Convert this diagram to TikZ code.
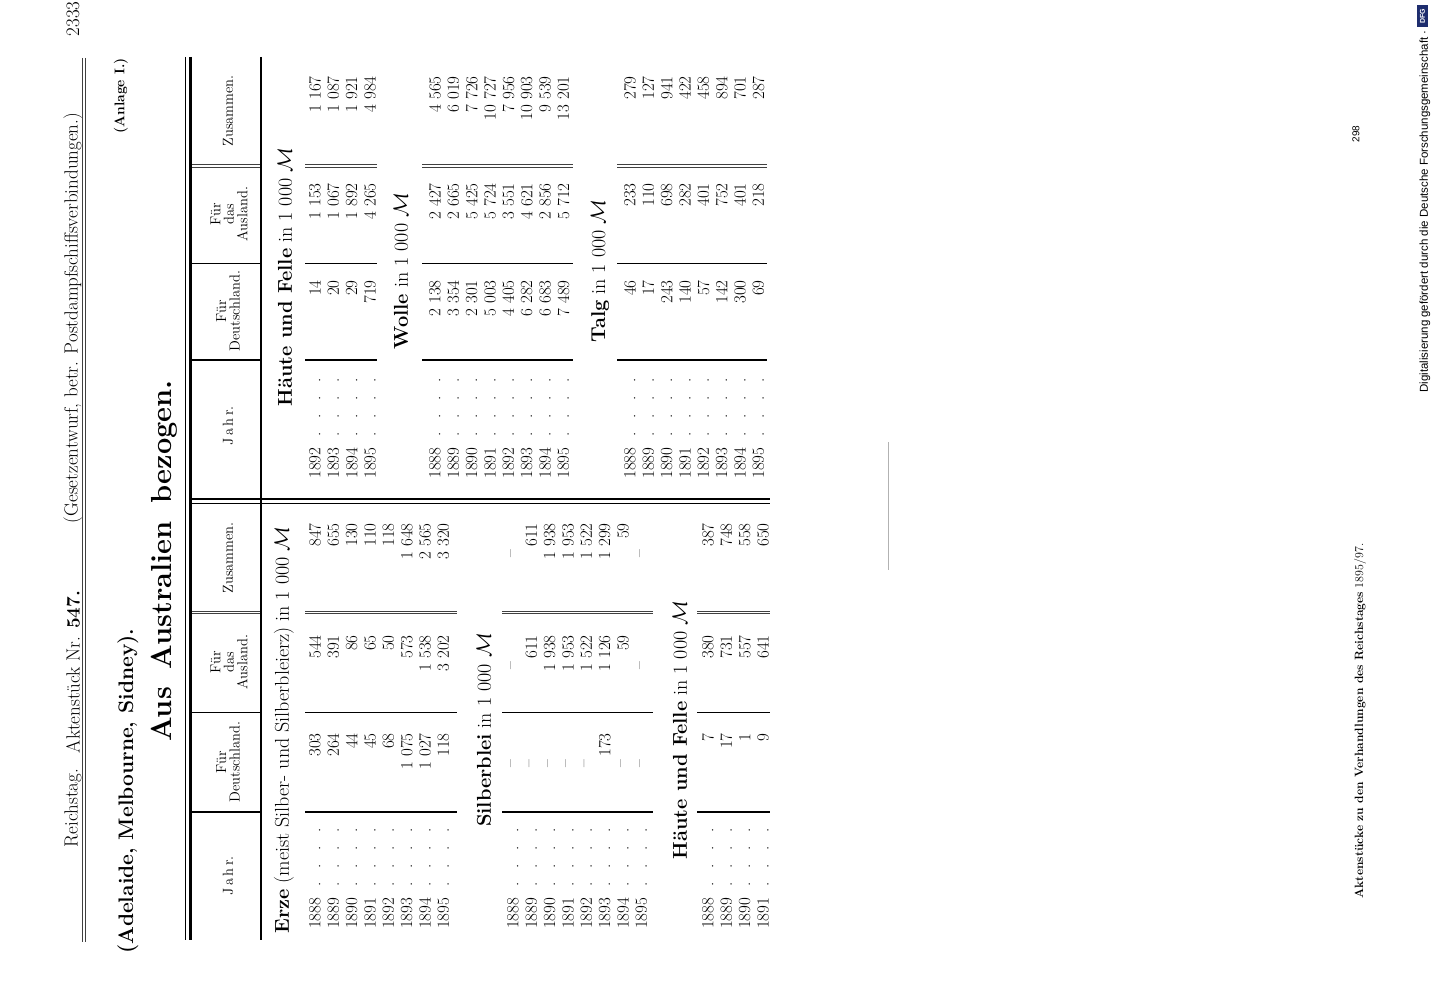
\documentclass[tikz,border=0pt]{standalone}
\usepackage{fontspec}
\usepackage{tikz}
\newfontfamily\dfgfont{Liberation Sans}
\definecolor{dfgblue}{RGB}{30,45,110}

\newcommand{\ts}{\kern.3em}
\newcommand{\nd}{\textendash\kern26pt}
\newcommand{\Mk}{$\mathcal{M}$}
\newcommand{\yrd}[1]{\makebox[112pt][l]{#1\cleaders\hbox to 18pt{\hss.\hss}\hfill}}

\tikzstyle{num}      = [rotate=90, anchor=east, inner sep=0pt, font=\fontsize{17}{18}\selectfont]
\tikzstyle{year}     = [rotate=90, anchor=west, inner sep=0pt, font=\fontsize{17}{18}\selectfont]
\tikzstyle{colhead}  = [rotate=90, align=center, inner sep=0pt, font=\fontsize{14.5}{13.5}\selectfont]
\tikzstyle{sechead}  = [rotate=90, inner sep=0pt, font=\fontsize{20}{21}\selectfont]
\tikzstyle{headtext} = [rotate=90, inner sep=0pt, font=\fontsize{19}{20}\selectfont\addfontfeature{LetterSpace=6}]
\tikzstyle{bold rule} = [line width=2.4pt]
\tikzstyle{thin rule} = [line width=.8pt]
\tikzstyle{fine rule} = [line width=.6pt, black!75]

\begin{document}
\begin{tikzpicture}[x=1pt, y=-1pt]
  \fill[white] (0,0) rectangle (1434,1000);
  \useasboundingbox (0,0) rectangle (1434,1000);

  % running head
  \node (rt)   [headtext] at (73,808) {Reichstag.};
  \node (akt)  [headtext] at (73,672) {Aktenstück Nr. \textbf{547.}};
  \node (betr) [headtext, font=\fontsize{19}{20}\selectfont\addfontfeature{LetterSpace=14}] at (73,318)
    {(Gesetzentwurf, betr. Postdampfschiffsverbindungen.)};
  \node (pg)   [headtext] at (73,19)  {2333};
  \draw[fine rule] (82,58) -- (82,942) (85,58) -- (85,942);

  \node (anl)   [headtext, font=\fontsize{14}{16}\selectfont\bfseries] at (121,96) {(Anlage I.)};
  \node (title) [headtext, font=\fontsize{21}{24}\selectfont\bfseries] at (128,791) {(Adelaide, Melbourne, Sidney).};
  \node (aus)   [headtext, font=\fontsize{29}{32}\selectfont\bfseries] at (164,561)
    {Aus\hspace{18pt}Australien\hspace{18pt}bezogen.};

  % frame
  \draw[thin rule] (185,57) -- (185,940);
  \draw[line width=3pt] (190.5,57) -- (190.5,940);
  \draw[line width=2.2pt] (261,57) -- (261,940);
  \draw[line width=2.8pt] (192,499) -- (770,499);
  \draw[thin rule] (192,503.5) -- (770,503.5);

  % column heads
  \node (lJ) [colhead] at (228,876) {J\,a\,h\,r.};
  \node (lD) [colhead] at (228,762) {Für\\Deutschland.};
  \node (lA) [colhead] at (229,662) {Für\\das\\Ausland.};
  \node (lZ) [colhead] at (228,558) {Zusammen.};
  \node (rJ) [colhead] at (228,426) {J\,a\,h\,r.};
  \node (rD) [colhead] at (228,311) {Für\\Deutschland.};
  \node (rA) [colhead] at (229,214) {Für\\das\\Ausland.};
  \node (rZ) [colhead] at (228,111) {Zusammen.};

  % column rules
  \foreach \p/\q in {192/260, 305/457, 502/653, 697/770}{
    \draw[bold rule] (\p,812) -- (\q,812);
    \draw[thin rule] (\p,712) -- (\q,712);
    \draw[fine rule] (\p,610.8) -- (\q,610.8) (\p,613.6) -- (\q,613.6);
  }
  \foreach \p/\q in {192/260, 305/377, 422/573, 617/767}{
    \draw[bold rule] (\p,360) -- (\q,360);
    \draw[thin rule] (\p,263) -- (\q,263);
    \draw[fine rule] (\p,164.8) -- (\q,164.8) (\p,167.6) -- (\q,167.6);
  }

  % section heads
  \node (eH)  [sechead] at (284,730) {\textbf{Erze} (meist Silber- und Silberbleierz) in 1\ts000 \Mk};
  \node (sH)  [sechead] at (484,730) {\textbf{Silberblei} in 1\ts000 \Mk};
  \node (hH)  [sechead] at (680,730) {\textbf{Häute und Felle} in 1\ts000 \Mk};
  \node (hrH) [sechead] at (285,277) {\textbf{Häute und Felle} in 1\ts000 \Mk};
  \node (wH)  [sechead] at (401,271) {\textbf{Wolle} in 1\ts000 \Mk};
  \node (tH)  [sechead] at (600,271) {\textbf{Talg} in 1\ts000 \Mk};

  % Erze
  \foreach \jr/\de/\au/\zu [count=\i] in {1888/303/544/847, 1889/264/391/655, 1890/44/86/130,
      1891/45/65/110, 1892/68/50/118, 1893/1\ts075/573/1\ts648, 1894/1\ts027/1\ts538/2\ts565,
      1895/118/3\ts202/3\ts320}{
    \pgfmathsetmacro\rx{315+18.35*(\i-1)}
    \node (eJ\i) [year] at (\rx,929) {\yrd{\jr}};
    \node (eD\i) [num]  at (\rx,733) {\de};
    \node (eA\i) [num]  at (\rx,635) {\au};
    \node (eZ\i) [num]  at (\rx,523) {\zu};
  }

  % Silberblei
  \foreach \jr/\de/\au/\zu [count=\i] in {1888/\nd/\nd/\nd, 1889/\nd/611/611, 1890/\nd/1\ts938/1\ts938,
      1891/\nd/1\ts953/1\ts953, 1892/\nd/1\ts522/1\ts522, 1893/173/1\ts126/1\ts299,
      1894/\nd/59/59, 1895/\nd/\nd/\nd}{
    \pgfmathsetmacro\rx{513+18.35*(\i-1)}
    \node (sJ\i) [year] at (\rx,929) {\yrd{\jr}};
    \node (sD\i) [num]  at (\rx,733) {\de};
    \node (sA\i) [num]  at (\rx,635) {\au};
    \node (sZ\i) [num]  at (\rx,523) {\zu};
  }

  % Haeute und Felle, links
  \foreach \jr/\de/\au/\zu [count=\i] in {1888/7/380/387, 1889/17/731/748, 1890/1/557/558, 1891/9/641/650}{
    \pgfmathsetmacro\rx{708+18.35*(\i-1)}
    \node (hJ\i) [year] at (\rx,929) {\yrd{\jr}};
    \node (hD\i) [num]  at (\rx,733) {\de};
    \node (hA\i) [num]  at (\rx,635) {\au};
    \node (hZ\i) [num]  at (\rx,523) {\zu};
  }

  % Haeute und Felle, rechts
  \foreach \jr/\de/\au/\zu [count=\i] in {1892/14/1\ts153/1\ts167, 1893/20/1\ts067/1\ts087,
      1894/29/1\ts892/1\ts921, 1895/719/4\ts265/4\ts984}{
    \pgfmathsetmacro\rx{315+18.35*(\i-1)}
    \node (hrJ\i) [year] at (\rx,479) {\yrd{\jr}};
    \node (hrD\i) [num]  at (\rx,280) {\de};
    \node (hrA\i) [num]  at (\rx,183) {\au};
    \node (hrZ\i) [num]  at (\rx,76)  {\zu};
  }

  % Wolle
  \foreach \jr/\de/\au/\zu [count=\i] in {1888/2\ts138/2\ts427/4\ts565, 1889/3\ts354/2\ts665/6\ts019,
      1890/2\ts301/5\ts425/7\ts726, 1891/5\ts003/5\ts724/10\ts727, 1892/4\ts405/3\ts551/7\ts956,
      1893/6\ts282/4\ts621/10\ts903, 1894/6\ts683/2\ts856/9\ts539, 1895/7\ts489/5\ts712/13\ts201}{
    \pgfmathsetmacro\rx{435+18.35*(\i-1)}
    \node (wJ\i) [year] at (\rx,479) {\yrd{\jr}};
    \node (wD\i) [num]  at (\rx,280) {\de};
    \node (wA\i) [num]  at (\rx,183) {\au};
    \node (wZ\i) [num]  at (\rx,76)  {\zu};
  }

  % Talg
  \foreach \jr/\de/\au/\zu [count=\i] in {1888/46/233/279, 1889/17/110/127, 1890/243/698/941,
      1891/140/282/422, 1892/57/401/458, 1893/142/752/894, 1894/300/401/701, 1895/69/218/287}{
    \pgfmathsetmacro\rx{630+18.35*(\i-1)}
    \node (tJ\i) [year] at (\rx,479) {\yrd{\jr}};
    \node (tD\i) [num]  at (\rx,280) {\de};
    \node (tA\i) [num]  at (\rx,183) {\au};
    \node (tZ\i) [num]  at (\rx,76)  {\zu};
  }

  \draw[gray!60, line width=.6pt] (888,442) -- (888,570);

  % foot
  \node (foot) [headtext, font=\fontsize{12}{14}\selectfont] at (1360,721)
    {\textbf{Aktenstücke zu den Verhandlungen des Reichstages} 1895/97.};
  \node (sheet) [headtext, font=\dfgfont\fontsize{10}{12}\selectfont] at (1356,134) {298};
  \node (dfg) [headtext, anchor=west, font=\dfgfont\fontsize{11.5}{13}\selectfont] at (1425,393)
    {Digitalisierung gefördert durch die Deutsche Forschungsgemeinschaft ·};
  \node (logo) [rotate=90, fill=dfgblue, text=white, inner sep=0pt, minimum width=22pt, minimum height=11pt,
    font=\dfgfont\bfseries\fontsize{7}{7}\selectfont] at (1422.5,16) {DFG};
\end{tikzpicture}
\end{document}
